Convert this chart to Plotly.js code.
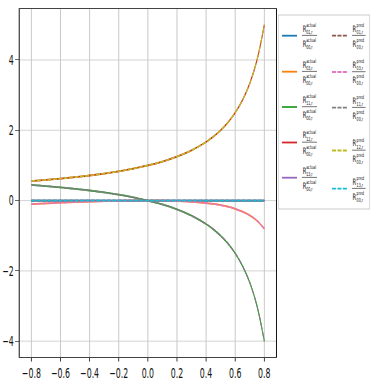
<!DOCTYPE html>
<html>
<head>
<meta charset="utf-8">
<script src="https://cdn.plot.ly/plotly-3.0.1.min.js"></script>
<style>
  html, body { margin: 0; padding: 0; background: #fff; overflow: hidden; }
  /* the figure is drawn wide and squeezed horizontally, like the original */
  #myDiv { width: 645px; height: 390px; transform: scaleX(0.5798); transform-origin: 0 0; }
</style>
</head>
<body>
<div id="myDiv"></div>
<script>
// sample positions
const xVals = [-0.8, -0.7, -0.6, -0.5, -0.4, -0.3, -0.2, -0.1, 0, 0.1, 0.2, 0.3, 0.4, 0.45, 0.5, 0.55, 0.6, 0.65, 0.7, 0.75, 0.8];

// ratios R_xx,r / R_00,r (actual)
const act01 = [0, 0, 0, 0, 0, 0, 0, 0, 0, 0, 0, 0, 0, 0, 0, 0, 0, 0, 0, 0, 0];
const act03 = [-0.1, -0.08, -0.06, -0.043, -0.029, -0.017, -0.008, -0.002, 0, -0.003, -0.013, -0.033, -0.07, -0.095, -0.13, -0.175, -0.235, -0.315, -0.42, -0.575, -0.8];
const act11 = [0.444, 0.412, 0.375, 0.333, 0.286, 0.231, 0.167, 0.091, 0, -0.111, -0.25, -0.429, -0.667, -0.818, -1, -1.222, -1.5, -1.857, -2.333, -3, -4];
const act12 = [0.556, 0.588, 0.625, 0.667, 0.714, 0.769, 0.833, 0.909, 1, 1.111, 1.25, 1.429, 1.667, 1.818, 2, 2.222, 2.5, 2.857, 3.333, 4, 5];
const act13 = [0, 0, 0, 0, 0, 0, 0, 0, 0, 0, 0, 0, 0, 0, 0, 0, 0, 0, 0, 0, 0];

// predicted ratios lie on top of the actual ones
const pred01 = act01;
const pred03 = act03;
const pred11 = act11;
const pred12 = act12;
const pred13 = act13;

const codes = ["01", "03", "11", "12", "13"];
const actSeries = [act01, act03, act11, act12, act13];
const predSeries = [pred01, pred03, pred11, pred12, pred13];
const actColors = ["#1f77b4", "#ff7f0e", "#2ca02c", "#d62728", "#9467bd"];
const predColors = ["#8c564b", "#e377c2", "#7f7f7f", "#bcbd22", "#17becf"];

const FONT = "'DejaVu Sans', sans-serif";
const SX = 0.5798;   // horizontal squeeze of #myDiv
const W = 645, H = 390;
const DASH = "7px,2.3px";

let data = [];
for (let i = 0; i < codes.length; i++) {
	data.push({
		x: xVals, y: actSeries[i], mode: "lines",
		line: {color: actColors[i], width: 1.8, shape: "spline"},
		hoverinfo: "skip"
	});
}
for (let i = 0; i < codes.length; i++) {
	data.push({
		x: xVals, y: predSeries[i], mode: "lines",
		line: {color: predColors[i], width: 1.8, dash: DASH, shape: "spline"},
		hoverinfo: "skip"
	});
}

// plot area in screen pixels
const L = 20, R = 276, T = 9, B = 357;
function px(x) { return (x - L) / (R - L); }
function py(y) { return (B - y) / (B - T); }

// hand made legend, two columns of fractions
let shapes = [{
	type: "rect", xref: "paper", yref: "paper",
	x0: px(278.5), x1: px(369.5), y0: py(15), y1: py(209),
	fillcolor: "rgba(255,255,255,0.8)",
	line: {color: "#cccccc", width: 1.2}
}];
let annotations = [];

const rowsAct = [35.7, 71.7, 107, 142.5, 177.7];
const rowsPred = [35.7, 72, 107.7, 150.5, 188.7];

function addTerm(x, y, sup, sub) {
	annotations.push({xref: "paper", yref: "paper", x: px(x), y: py(y + 0.3), xanchor: "left", yanchor: "middle",
		text: "R", showarrow: false, borderpad: 0, font: {family: FONT, size: 9, color: "#111"}});
	// superscript over subscript, stacked
	annotations.push({xref: "paper", yref: "paper", x: px(x + 3.7), y: py(y), xanchor: "left", yanchor: "middle",
		text: sup + "<br>" + sub, align: "left", showarrow: false, borderpad: 0,
		font: {family: FONT, size: 5.6, color: "#111"}});
}

function addEntry(ly, sx0, fx0, color, dash, word, code) {
	shapes.push({type: "line", xref: "paper", yref: "paper",
		x0: px(sx0), x1: px(sx0 + 15), y0: py(ly), y1: py(ly),
		line: {color: color, width: 1.8, dash: dash}});
	shapes.push({type: "line", xref: "paper", yref: "paper",
		x0: px(fx0), x1: px(fx0 + (word == "actual" ? 15 : 13.5)), y0: py(ly - 0.3), y1: py(ly - 0.3),
		line: {color: "#222", width: 0.8}});
	addTerm(fx0, ly - 7.4, word, code + ",r");
	addTerm(fx0, ly + 7.8, word, "00,r");
}

for (let i = 0; i < codes.length; i++) {
	addEntry(rowsAct[i], 282, 302, actColors[i], "solid", "actual", codes[i]);
	addEntry(rowsPred[i], 332, 352, predColors[i], DASH, "pred", codes[i]);
}

let layout = {
	width: W, height: H,
	margin: {l: L / SX, r: (374 - R) / SX, t: T, b: H - B, pad: 0},
	paper_bgcolor: "#fff", plot_bgcolor: "#fff",
	showlegend: false,
	font: {family: FONT, size: 13.5, color: "#111"},
	xaxis: {
		range: [-0.88, 0.88], tickvals: [-0.8, -0.6, -0.4, -0.2, 0, 0.2, 0.4, 0.6, 0.8],
		tickformat: ".1f",
		showgrid: true, gridcolor: "#c8c8c8", gridwidth: 1.7,
		zeroline: false, showline: true, linecolor: "#111", linewidth: 1, mirror: true,
		ticks: "outside", ticklen: 3.5, tickcolor: "#111", tickwidth: 1.4,
		tickfont: {family: FONT, size: 13.5, color: "#111"}
	},
	yaxis: {
		range: [-4.45, 5.45], tickvals: [-4, -2, 0, 2, 4],
		showgrid: true, gridcolor: "#c8c8c8", gridwidth: 1,
		zeroline: false, showline: true, linecolor: "#111", linewidth: 1.7, mirror: true,
		ticks: "outside", ticklen: 6, tickcolor: "#111", tickwidth: 0.8,
		tickfont: {family: FONT, size: 13.5, color: "#111"}
	},
	shapes: shapes,
	annotations: annotations
};

Plotly.newPlot("myDiv", data, layout, {staticPlot: true});
</script>
</body>
</html>
